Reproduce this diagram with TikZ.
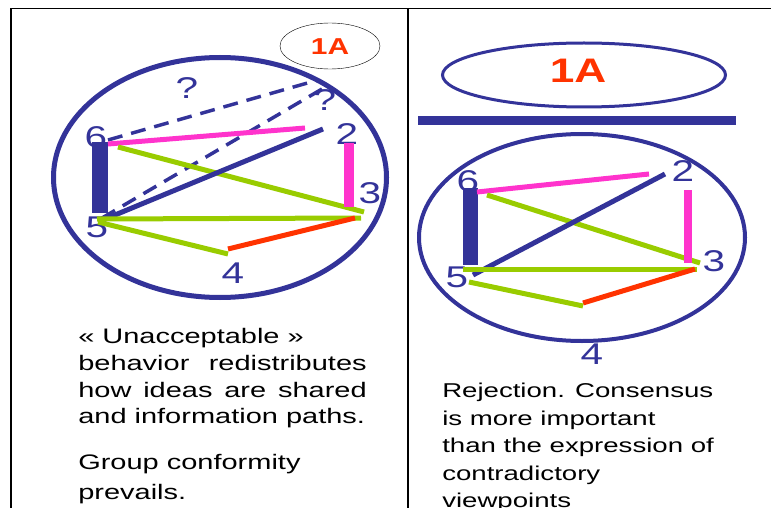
\documentclass[tikz,border=0pt]{standalone}
\usepackage{fontspec}
\setmainfont{Liberation Sans}
\usetikzlibrary{positioning, shapes.geometric}
\usepackage{xcolor}

\definecolor{navy}{HTML}{333399}
\definecolor{pinkline}{HTML}{FF33CC}
\definecolor{limeline}{HTML}{99CC00}
\definecolor{redline}{HTML}{FF3300}

\tikzset{
  frame/.style={black, line width=1.6pt},
  vertex/.style={navy, inner sep=0pt, font=\fontsize{30}{30}\selectfont, xscale=1.35},
  tag/.style={redline, font=\bfseries\fontsize{#1}{#1}\selectfont, xscale=1.3},
  note/.style={anchor=base west, inner sep=0pt, font=\fontsize{#1}{#1}\selectfont, xscale=1.38},
  link/.style={line width=5pt},
  bar/.style={navy, line width=#1},
  maybe/.style={navy, line width=3.5pt, dash pattern=on 15pt off 9pt}
}

\begin{document}
\begin{tikzpicture}[x=1pt, y=-1pt]
  \useasboundingbox (0,0) rectangle (771,508);

  % frame of the two panels
  \coordinate (topL) at (11,8.5);
  \coordinate (topR) at (771,8.5);
  \coordinate (botL) at (11,508);
  \coordinate (midT) at (408,8.5);
  \coordinate (midB) at (408,508);
  \draw[frame] (botL) -- (topL) -- (topR);
  \draw[frame] (midT) -- (midB);

  % ---------- left panel ----------
  \node[draw=navy, line width=5pt, ellipse, minimum width=333pt, minimum height=240pt] (groupL) at (220,177.5) {};
  \node[draw, thin, ellipse, minimum width=100pt, minimum height=46pt, fill=white] (capL) at (330,46) {};
  \node[tag=23] (nameL) at (330,47) {1A};

  \node[vertex] (l6) at (96,137) {6};
  \node[vertex] (l5) at (97,227) {5};
  \node[vertex] (l2) at (347,134) {2};
  \node[vertex] (l3) at (370,193) {3};
  \node[vertex] (l4) at (233,273) {4};
  \node[vertex] (q1) at (187,88) {?};
  \node[vertex] (q2) at (325,100) {?};

  \coordinate (l6bar) at (100,142);
  \coordinate (l5bar) at (100,213);
  \coordinate (l6p) at (108,144);
  \coordinate (l2p) at (305,128);
  \coordinate (l6g) at (118,147);
  \coordinate (l3g) at (364,212);
  \coordinate (l5n) at (98,222);
  \coordinate (l2n) at (323,129);
  \coordinate (l6d) at (108,140);
  \coordinate (q2a) at (318,80);
  \coordinate (l5d) at (102,218);
  \coordinate (q2b) at (322,89);
  \coordinate (l2v) at (349,143);
  \coordinate (l3v) at (349,207);
  \coordinate (l5h) at (97,219);
  \coordinate (l3h) at (361,218);
  \coordinate (l3r) at (355,218);
  \coordinate (l4r) at (228,249);
  \coordinate (l5s) at (98,222);
  \coordinate (l4s) at (228,254);

  \draw[maybe] (l6d) -- (q2a);
  \draw[maybe] (l5d) -- (q2b);
  \draw[bar=16pt] (l6bar) -- (l5bar);
  \draw[link, pinkline] (l6p) -- (l2p);
  \draw[link, limeline] (l6g) -- (l3g);
  \draw[link, navy] (l5n) -- (l2n);
  \draw[pinkline, line width=10pt] (l2v) -- (l3v);
  \draw[link, limeline] (l5h) -- (l3h);
  \draw[link, redline] (l3r) -- (l4r);
  \draw[link, limeline] (l5s) -- (l4s);

  \node[note=21] (textL1) at (78,343) {\guillemotleft\ Unacceptable \guillemotright};
  \node[note=21] (textL2) at (78,370) {\makebox[209pt][s]{behavior redistributes}};
  \node[note=21] (textL3) at (78,397) {\makebox[209pt][s]{how ideas are shared}};
  \node[note=21] (textL4) at (78,423) {and information paths.};
  \node[note=21] (textL5) at (78,469) {Group conformity};
  \node[note=21] (textL6) at (78,499) {prevails.};

  % ---------- right panel ----------
  \node[draw=navy, line width=3pt, ellipse, minimum width=283pt, minimum height=64pt] (capR) at (584,75) {};
  \node[tag=34] (nameR) at (578,71) {1A};
  \coordinate (lineA) at (418,120.5);
  \coordinate (lineB) at (736,120.5);
  \draw[bar=9pt] (lineA) -- (lineB);
  \node[draw=navy, line width=4pt, ellipse, minimum width=326pt, minimum height=207pt] (groupR) at (582,237.5) {};

  \node[vertex] (r6) at (468,181) {6};
  \node[vertex] (r5) at (457,277) {5};
  \node[vertex] (r2) at (683,171) {2};
  \node[vertex] (r3) at (714,261) {3};
  \node[vertex] (r4) at (592,354) {4};

  \coordinate (r6bar) at (470.5,188);
  \coordinate (r5bar) at (470.5,265);
  \coordinate (r6p) at (477,192);
  \coordinate (r2p) at (649,174);
  \coordinate (r6g) at (487,195);
  \coordinate (r3g) at (700,263);
  \coordinate (r5n) at (473,275);
  \coordinate (r2n) at (665,174);
  \coordinate (r2v) at (688,190);
  \coordinate (r3v) at (688,263);
  \coordinate (r5h) at (463,269);
  \coordinate (r3h) at (697,269);
  \coordinate (r3r) at (695,269);
  \coordinate (r4r) at (583,303);
  \coordinate (r5s) at (469,282);
  \coordinate (r4s) at (583,306);

  \draw[bar=15pt] (r6bar) -- (r5bar);
  \draw[link, pinkline] (r6p) -- (r2p);
  \draw[link, limeline] (r6g) -- (r3g);
  \draw[link, navy] (r5n) -- (r2n);
  \draw[pinkline, line width=8pt] (r2v) -- (r3v);
  \draw[link, limeline] (r5h) -- (r3h);
  \draw[link, redline] (r3r) -- (r4r);
  \draw[link, limeline] (r5s) -- (r4s);

  \node[note=20] (textR1) at (442,397) {Rejection. Consensus};
  \node[note=20] (textR2) at (442,425) {is more important};
  \node[note=20] (textR3) at (442,452) {than the expression of};
  \node[note=20] (textR4) at (442,480) {contradictory};
  \node[note=20] (textR5) at (442,507) {viewpoints};
\end{tikzpicture}
\end{document}
